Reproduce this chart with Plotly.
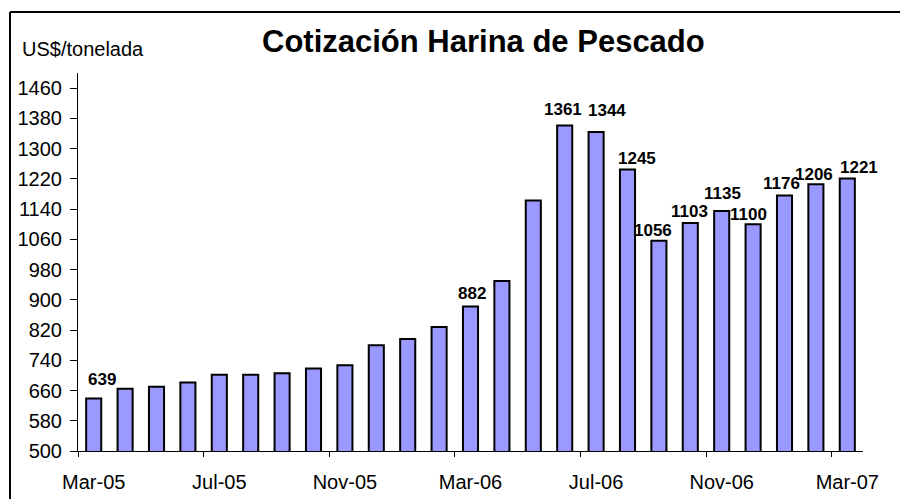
import plotly.graph_objects as go

months = ["Mar-05", "Apr-05", "May-05", "Jun-05", "Jul-05", "Aug-05", "Sep-05",
          "Oct-05", "Nov-05", "Dec-05", "Jan-06", "Feb-06", "Mar-06", "Apr-06",
          "May-06", "Jun-06", "Jul-06", "Aug-06", "Sep-06", "Oct-06", "Nov-06",
          "Dec-06", "Jan-07", "Feb-07", "Mar-07"]
prices = [639, 665, 670, 681, 702, 702, 706, 718, 727, 780, 796, 828, 882, 950,
          1163, 1361, 1344, 1245, 1056, 1103, 1135, 1100, 1176, 1206, 1221]
labelled_months = ["Mar-05", "Mar-06", "Jun-06", "Jul-06", "Aug-06", "Sep-06",
                   "Oct-06", "Nov-06", "Dec-06", "Jan-07", "Feb-07", "Mar-07"]
tick_labels = ["Mar-05", "Jul-05", "Nov-05", "Mar-06", "Jul-06", "Nov-06", "Mar-07"]
y_ticks = list(range(500, 1461, 80))

# label placement nudges (pixels), as in the original layout
label_nudge = {"Mar-05": (8, 7), "Mar-06": (1, 2), "Jun-06": (-2, 5),
               "Jul-06": (11, 10), "Aug-06": (9, -1), "Sep-06": (-6, -1),
               "Oct-06": (-1, 0), "Nov-06": (1, 6), "Dec-06": (-5, -2),
               "Jan-07": (-3, 0), "Feb-07": (-2, -2), "Mar-07": (12, -1)}

W, H = 900, 499
ML, MR, MT, MB = 78, 37, 73, 48
PW, PH = W - ML - MR, H - MT - MB

def px_x(p):
    return (p - ML) / PW

def px_y(p):
    return (H - MB - p) / PH

FONT = "Arial, Liberation Sans, sans-serif"
idx = list(range(len(months)))

fig = go.Figure()
fig.add_trace(go.Bar(
    x=idx, y=prices, width=0.48,
    marker=dict(color="#9999FF", line=dict(color="black", width=2)),
    hoverinfo="y",
))

annotations = []
for i, (m, v) in enumerate(zip(months, prices)):
    if m in labelled_months:
        dx, dy = label_nudge.get(m, (0, 0))
        annotations.append(dict(
            x=i, y=v, xref="x", yref="y", text=f"<b>{v}</b>", showarrow=False,
            xanchor="center", yanchor="bottom", xshift=dx, yshift=dy,
            font=dict(size=17, family=FONT, color="black")))

annotations += [
    dict(text="<b>Cotización Harina de Pescado</b>", xref="paper", yref="paper",
         x=px_x(483), y=px_y(41), xanchor="center", yanchor="middle",
         showarrow=False, font=dict(size=31, family=FONT, color="black")),
    dict(text="US$/tonelada", xref="paper", yref="paper",
         x=px_x(20), y=px_y(49), xanchor="left", yanchor="middle",
         showarrow=False, font=dict(size=20, family=FONT, color="black")),
]

tick_pos = [i for i, m in enumerate(months) if m in tick_labels]
border = dict(color="black", width=2)
fig.update_layout(
    width=W, height=H,
    margin=dict(l=ML, r=MR, t=MT, b=MB, autoexpand=False),
    paper_bgcolor="white", plot_bgcolor="white",
    showlegend=False,
    font=dict(family=FONT, color="black"),
    xaxis=dict(
        range=[-0.5, len(months) - 0.5], automargin=False,
        tickmode="array", tickvals=tick_pos, ticktext=tick_labels,
        ticks="", showgrid=False, zeroline=False,
        showline=True, linecolor="black", linewidth=1,
        tickfont=dict(size=20, family=FONT, color="black"),
        ticklabelstandoff=13,
        minor=dict(tickmode="array", tickvals=[p - 0.5 for p in tick_pos],
                   ticks="outside", ticklen=5, tickcolor="black", tickwidth=1,
                   showgrid=False),
    ),
    yaxis=dict(
        range=[500, 1500], automargin=False,
        tickmode="array", tickvals=y_ticks,
        ticks="outside", ticklen=7, tickcolor="black", tickwidth=1,
        showgrid=False, zeroline=False,
        showline=True, linecolor="black", linewidth=1,
        tickfont=dict(size=20, family=FONT, color="black"),
        ticklabelstandoff=4,
    ),
    shapes=[
        dict(type="line", xref="paper", yref="paper",
             x0=px_x(10), x1=px_x(W), y0=px_y(12), y1=px_y(12), line=border),
        dict(type="line", xref="paper", yref="paper",
             x0=px_x(10), x1=px_x(10), y0=px_y(12), y1=px_y(H), line=border),
    ],
    annotations=annotations,
)

fig.write_html("out.html", config={"displayModeBar": False},
               post_script="document.body.style.margin='0';"
                           "document.body.style.overflow='hidden';")
